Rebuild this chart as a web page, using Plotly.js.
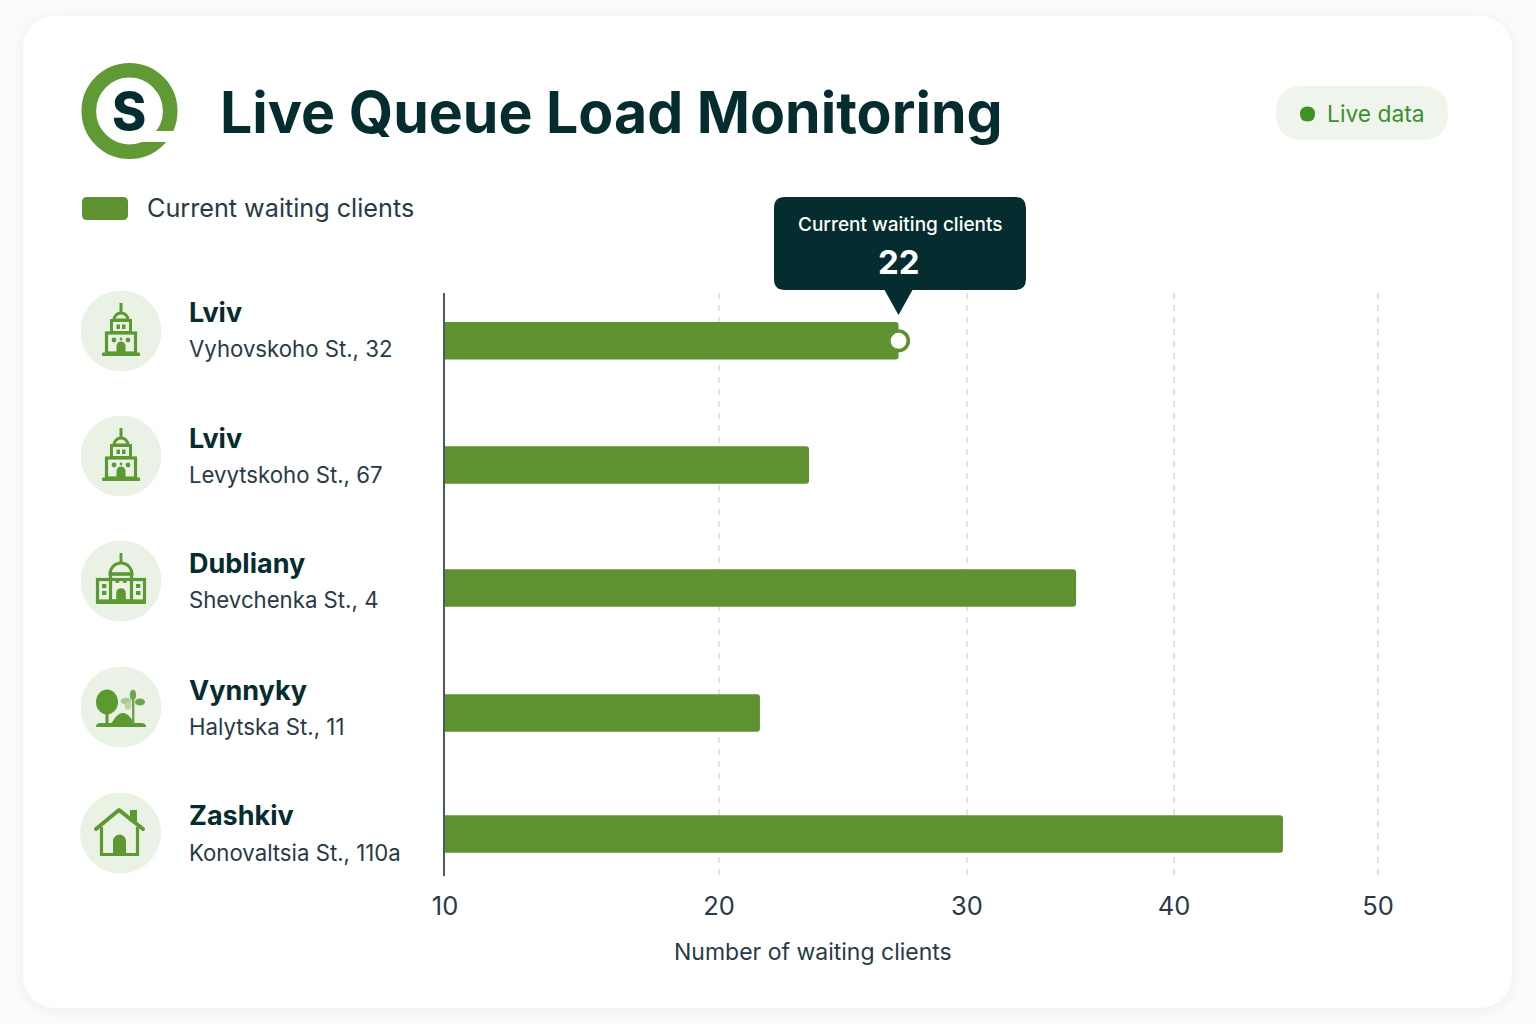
<!DOCTYPE html>
<html><head><meta charset="utf-8">
<script src="https://cdn.plot.ly/plotly-3.0.1.min.js"></script>
<style>
html,body{margin:0;padding:0;background:#fbfbfa;width:1536px;height:1024px;overflow:hidden}
#card{position:absolute;left:23px;top:16px;width:1489px;height:992px;border-radius:32px;background:#fff;box-shadow:0 2px 14px rgba(40,50,40,.07)}
#chart{position:absolute;left:0;top:0;width:1536px;height:1024px}
</style></head><body>
<div id="card"></div><div id="chart"></div>
<script>
const cities = ['Lviv','Lviv','Dubliany','Vynnyky','Zashkiv'];
const addresses = ['Vyhovskoho St., 32','Levytskoho St., 67','Shevchenka St., 4','Halytska St., 11','Konovaltsia St., 110a'];
const waitingClients = [27.24,23.63,35.27,21.65,45.34];
const rowPositions = [0.002,1.008,2.004,3.016,3.996];
const axisValues = [10,20,30,40,50];
const axisStops = [445,719,967,1174,1378]; // the reference axis is unevenly spaced
const seriesName = 'Current waiting clients';
const axisTitle = 'Number of waiting clients';
const tooltipValue = '22';

const GREEN='#5e9130', DARK='#052c2e', TEXT='#283a47', FONT='Inter, "Noto Sans", sans-serif';
const px=x=>x/1536, py=y=>1-y/1024;
function warp(v){
  for(let i=0;i<axisValues.length-1;i++){
    if(v<=axisValues[i+1]){
      const t=(v-axisValues[i])/(axisValues[i+1]-axisValues[i]);
      return axisStops[i]+t*(axisStops[i+1]-axisStops[i]);
    }
  }
  return axisStops[axisStops.length-1];
}
function P(x,y){return px(x)+' '+py(y);}
function rr(x0,y0,x1,y1,r){
  return 'M'+P(x0+r,y0)+' L'+P(x1-r,y0)+' Q'+P(x1,y0)+' '+P(x1,y0+r)+' L'+P(x1,y1-r)+' Q'+P(x1,y1)+' '+P(x1-r,y1)+
   ' L'+P(x0+r,y1)+' Q'+P(x0,y1)+' '+P(x0,y1-r)+' L'+P(x0,y0+r)+' Q'+P(x0,y0)+' '+P(x0+r,y0)+' Z';
}
function pathShape(d,color){return {type:'path',xref:'paper',yref:'paper',path:d,fillcolor:color,line:{width:0},layer:'above'};}
function label(text,x,y,size,color,weight,anchor){
  return {text:text,xref:'paper',yref:'paper',x:px(x),y:py(y),xanchor:anchor||'left',yanchor:'middle',showarrow:false,borderpad:0,
    font:{family:FONT,size:size,color:color,weight:weight||400}};
}
const G='#5c9a31';
const bg='<circle cx="40.5" cy="40.5" r="40.5" fill="#e9f2e5"/>';
function tower(){return `<g transform="translate(40.5,40.5)" fill="${G}" stroke="none">
 <rect x="-1.5" y="-28" width="3" height="10"/>
 <path d="M-7 -11 A7 7 0 0 1 7 -11 Z" fill="none" stroke="${G}" stroke-width="3"/>
 <rect x="-9.5" y="-10.5" width="19" height="12" fill="none" stroke="${G}" stroke-width="3"/>
 <rect x="-4.5" y="-6.5" width="3.5" height="4.5"/><rect x="1" y="-6.5" width="3.5" height="4.5"/>
 <rect x="-14.5" y="2" width="29" height="20" fill="none" stroke="${G}" stroke-width="3.2"/>
 <circle cx="-7" cy="9" r="2.4"/><circle cx="0" cy="8" r="1.4"/><circle cx="7" cy="9" r="2.4"/>
 <path d="M-4.5 21 V15 A4.5 4.5 0 0 1 4.5 15 V21 Z"/>
 <rect x="-19" y="21.5" width="38" height="3.4" rx="1"/></g>`;}
function palace(){return `<g transform="translate(40.5,40.5)" fill="${G}">
 <rect x="-1.4" y="-28" width="2.8" height="10"/>
 <path d="M-11 -7 A11 11 0 0 1 11 -7 Z" fill="none" stroke="${G}" stroke-width="3"/>
 <rect x="-10.5" y="-7" width="21" height="27" fill="none" stroke="${G}" stroke-width="3.2"/>
 <rect x="-23.5" y="-1.5" width="47" height="21.5" fill="none" stroke="${G}" stroke-width="3.2"/>
 <rect x="-5.5" y="-2.5" width="3.6" height="4.4"/><rect x="2" y="-2.5" width="3.6" height="4.4"/>
 <rect x="-19" y="3" width="4.4" height="4"/><rect x="-19" y="10" width="4.4" height="4"/>
 <rect x="15" y="3" width="4.4" height="4"/><rect x="15" y="10" width="4.4" height="4"/>
 <path d="M-4.8 20 V12 A4.8 4.8 0 0 1 4.8 12 V20 Z"/>
 <rect x="-25" y="19.5" width="50" height="3.4" rx="1"/></g>`;}
function park(){return `<g transform="translate(40.5,40.5)" fill="${G}">
 <ellipse cx="-14" cy="-5" rx="11" ry="12.5"/>
 <rect x="-15.5" y="0" width="3" height="17"/>
 <path d="M-10 17 C-5 8 -1 6 2 6 C7 6 10 11 14 17 Z"/>
 <rect x="11" y="-8" width="2.4" height="25" fill="#6fa548"/>
 <ellipse cx="12" cy="-12" rx="3.2" ry="5.4" fill="#6fa548"/>
 <ellipse cx="5" cy="-6" rx="5.4" ry="3.2" fill="#a9c98e"/><ellipse cx="19" cy="-5" rx="5" ry="3.6" fill="#6fa548"/>
 <ellipse cx="7" cy="-1" rx="3.4" ry="3.8" fill="#bcd5a6"/>
 <path d="M-25 20 Q-25 16 -20 16 H20 Q25 16 25 20 Z"/></g>`;}
function house(){return `<g transform="translate(40,40.5)" fill="${G}">
 <path d="M-24 -4 L-1 -23 L23 -4" fill="none" stroke="${G}" stroke-width="4" stroke-linecap="round" stroke-linejoin="round"/>
 <rect x="10" y="-23" width="7" height="12"/>
 <path d="M-18.5 -6 V21.5 H17.5 V-6" fill="none" stroke="${G}" stroke-width="3.2"/>
 <path d="M-7 21 V8 A6.5 6.5 0 0 1 6 8 V21 Z"/></g>`;}
function svgUri(w,h,body){return 'data:image/svg+xml;charset=utf-8,'+encodeURIComponent(
 `<svg xmlns="http://www.w3.org/2000/svg" width="${w}" height="${h}" viewBox="0 0 ${w} ${h}">${body}</svg>`);}
function img(src,x,y,w,h){return {source:src,xref:'paper',yref:'paper',x:px(x),y:py(y),sizex:w/1536,sizey:h/1024,xanchor:'left',yanchor:'top',sizing:'stretch',layer:'above'};}
const logo=svgUri(100,100,`<circle cx="48.5" cy="49" r="40.7" fill="none" stroke="#5f9a35" stroke-width="14.6"/>
 <rect x="60" y="69" width="40" height="11" fill="#fff"/>`);
const circleCY=[331,456,581,707,833], circleCX=[121,121,121,121,120.5];
const icons=[tower(),tower(),palace(),park(),house()];
const cityY=[312,438,563.5,690.5,815.5], addrY=[348,474,599,726,852];

const images=[img(logo,81,62,100,100)];
icons.forEach((b,i)=>images.push(img(svgUri(81,81,bg+b),circleCX[i]-40.5,circleCY[i]-40.5,81,81)));

const annotations=[
 label('Live Queue Load Monitoring',219,112,57.2,DARK,700),
 label('S',129,111,52,DARK,800,'center'),
 label('Live data',1325.5,113.5,22.8,'#3d8f2b',400),
 label(seriesName,145.5,208,25.2,TEXT,400),
 label(seriesName,900,224.5,19,'#ffffff',500,'center'),
 label(tooltipValue,899,262,33,'#ffffff',700,'center'),
 label(axisTitle,812.5,951.5,23,TEXT,400,'center')
];
cities.forEach((c,i)=>{
 annotations.push(label(c,187.5,cityY[i],27,DARK,700));
 annotations.push(label(addresses[i],187.5,addrY[i],22.2,TEXT,400));
});
const shapes=[
 pathShape(rr(1276,86,1448,140,27),'#eff5ec'),
 pathShape(rr(1300,106.5,1315,121.5,7.5),'#3f9126'),
 pathShape(rr(82,197,128,220,5),GREEN),
 pathShape(rr(774,197,1026,290,11),DARK),
 pathShape('M'+P(884,289)+' L'+P(913,289)+' L'+P(898.5,315)+' Z',DARK)
];

const barX=waitingClients.map(warp);
const traces=[
 {type:'bar',orientation:'h',name:seriesName,x:barX,y:rowPositions,width:0.304,
  marker:{color:GREEN,cornerradius:3,line:{width:0}},text:cities,textposition:'none',hoverinfo:'skip'},
 {type:'scatter',mode:'markers',x:[barX[0]],y:[rowPositions[0]],
  marker:{size:19.5,color:'#ffffff',line:{color:GREEN,width:3.6}},hoverinfo:'skip',showlegend:false}
];
const layout={
 width:1536,height:1024,autosize:false,margin:{l:0,r:0,t:0,b:0},
 paper_bgcolor:'rgba(0,0,0,0)',plot_bgcolor:'rgba(0,0,0,0)',showlegend:false,hovermode:false,
 font:{family:FONT,color:TEXT},
 xaxis:{domain:[px(445),px(1400)],range:[445,1400],tickmode:'array',tickvals:axisStops,ticktext:axisValues.map(String),
  showgrid:true,gridcolor:'#e3e5e3',griddash:'6px,6px',gridwidth:1.3,zeroline:false,showline:false,ticks:'',
  ticklabelstandoff:12,tickfont:{family:FONT,size:25.5,color:TEXT},automargin:false},
 yaxis:{domain:[py(876),py(293)],range:[4.336,-0.385],showticklabels:false,ticks:'',showgrid:false,zeroline:false,
  showline:true,linecolor:'#4b5a62',linewidth:1.6,automargin:false},
 shapes:shapes,annotations:annotations,images:images
};
Plotly.newPlot('chart',traces,layout,{displayModeBar:false,staticPlot:true});
</script></body></html>
